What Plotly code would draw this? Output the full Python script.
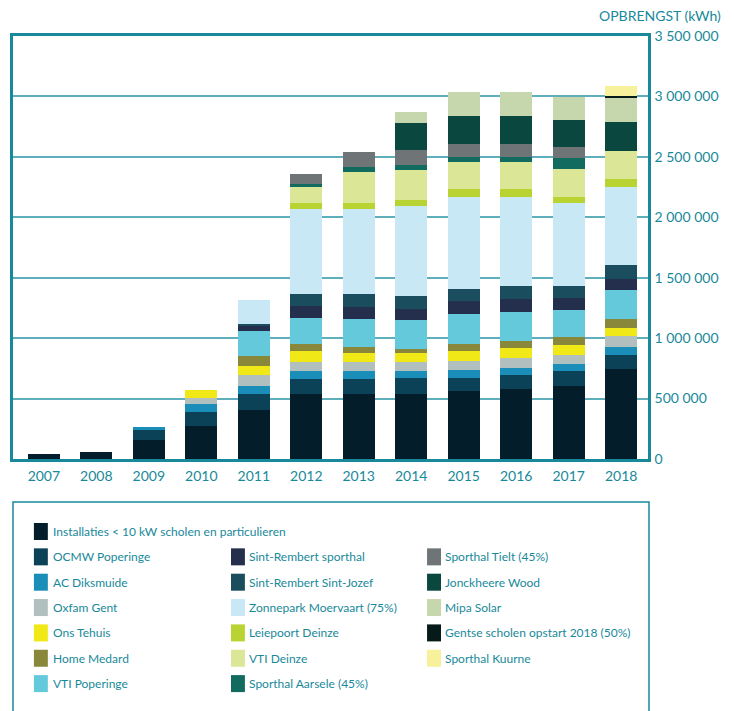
import plotly.graph_objects as go

# ---------------- data ----------------
years = ["2007", "2008", "2009", "2010", "2011", "2012", "2013", "2014", "2015", "2016", "2017", "2018"]

installaties = [42000, 59000, 161000, 271000, 409000, 537000, 537000, 537000, 562000, 580000, 604000, 741000]
ocmw_poperinge = [None, None, 76000, 119000, 128000, 129000, 129000, 137000, 106000, 113000, 121000, 120000]
ac_diksmuide = [None, None, 25000, 68000, 65000, 64000, 64000, 56000, 65000, 64000, 64000, 64000]
oxfam_gent = [None, None, None, 50000, 96000, 72000, 72000, 72000, 80000, 80000, 72000, 89000]
ons_tehuis = [None, None, None, 60000, 72000, 88000, 72000, 72000, 80000, 80000, 80000, 74000]
home_medard = [None, None, None, None, 80000, 65000, 56000, 40000, 56000, 56000, 65000, 67000]
vti_poperinge = [None, None, None, None, 210000, 213000, 229000, 237000, 247000, 240000, 223000, 240000]
sr_sporthal = [None, None, None, None, 42000, 98000, 99000, 91000, 108000, 107000, 100000, 91000]
sr_sint_jozef = [None, None, None, None, 16000, 99000, 107000, 107000, 99000, 108000, 99000, 116000]
zonnepark = [None, None, None, None, 198000, 707000, 707000, 748000, 761000, 736000, 694000, 645000]
leiepoort = [None, None, None, None, None, 50000, 50000, 50000, 67000, 67000, 50000, 67000]
vti_deinze = [None, None, None, None, None, 134000, 250000, 243000, 225000, 225000, 225000, 232000]
sporthal_aarsele = [None, None, None, None, None, 16000, 42000, 41000, 41000, 41000, 92000, None]
sporthal_tielt = [None, None, None, None, None, 84000, 123000, 123000, 107000, 107000, 90000, None]
jonckheere = [None, None, None, None, None, None, None, 229000, 238000, 238000, 230000, 246000]
mipa_solar = [None, None, None, None, None, None, None, 90000, 196000, 196000, 188000, 197000]
gentse_scholen = [None, None, None, None, None, None, None, None, None, None, None, 16000]
sporthal_kuurne = [None, None, None, None, None, None, None, None, None, None, None, 82000]

series_names = [
    "Installaties < 10 kW scholen en particulieren",
    "OCMW Poperinge", "AC Diksmuide", "Oxfam Gent", "Ons Tehuis", "Home Medard", "VTI Poperinge",
    "Sint-Rembert sporthal", "Sint-Rembert Sint-Jozef", "Zonnepark Moervaart (75%)", "Leiepoort Deinze",
    "VTI Deinze", "Sporthal Aarsele (45%)",
    "Sporthal Tielt (45%)", "Jonckheere Wood", "Mipa Solar", "Gentse scholen opstart 2018 (50%)", "Sporthal Kuurne",
]
series_values = [
    installaties, ocmw_poperinge, ac_diksmuide, oxfam_gent, ons_tehuis, home_medard, vti_poperinge,
    sr_sporthal, sr_sint_jozef, zonnepark, leiepoort, vti_deinze, sporthal_aarsele,
    sporthal_tielt, jonckheere, mipa_solar, gentse_scholen, sporthal_kuurne,
]
series_colors = [
    "#031e2a", "#0b4258", "#1a8db8", "#b2bfbf", "#f0e817", "#88873a", "#63c9db",
    "#242e4d", "#1a4e5e", "#c7e8f4", "#b9d432", "#dbe697", "#116b5e",
    "#6f7476", "#0a473e", "#c7d7ad", "#071a1a", "#f6f19a",
]

y_tick_vals = [0, 500000, 1000000, 1500000, 2000000, 2500000, 3000000, 3500000]
y_tick_text = ["0", "500 000", "1 000 000", "1 500 000", "2 000 000", "2 500 000", "3 000 000", "3 500 000"]

unit_title = "OPBRENGST (kWh)"

# ---------------- styling ----------------
TEAL = "#18899a"
GRID = "#5eaebb"
FONT = "Lato, Open Sans, sans-serif"
W, H = 734, 711
PL, PR, PT, PB = 10, 648, 36, 459  # plot area pixel box


def px_x(px):
    return (px - PL) / (PR - PL)


def px_y(py):
    return (PB - py) / (PB - PT)


fig = go.Figure()
for name, vals, col in zip(series_names, series_values, series_colors):
    fig.add_trace(go.Bar(
        x=years, y=vals, name=name, marker=dict(color=col, line=dict(width=0)),
        showlegend=False,
    ))

shapes = []
annotations = []

# legend frame
shapes.append(dict(type="rect", xref="paper", yref="paper",
                   x0=px_x(10), x1=px_x(649), y0=px_y(760), y1=px_y(502),
                   line=dict(color=TEAL, width=1.5), fillcolor="rgba(0,0,0,0)", layer="above"))

# legend layout: first item alone on row 0, then three columns of six
col_sw_x = [31, 229, 426]
col_tx_x = [50, 247, 444]
row0_y = 531.5
row_step = 25.35
positions = [(0, 0)]
for i in range(1, len(series_names)):
    k = i - 1
    positions.append((k // 6, 1 + k % 6))

for (c, r), name, col in zip(positions, series_names, series_colors):
    cy = row0_y + r * row_step
    shapes.append(dict(type="rect", xref="paper", yref="paper",
                       x0=px_x(col_sw_x[c]), x1=px_x(col_sw_x[c] + 14),
                       y0=px_y(cy + 8.5), y1=px_y(cy - 8.5),
                       line=dict(width=0), fillcolor=col, layer="above"))
    annotations.append(dict(xref="paper", yref="paper", x=px_x(col_tx_x[c] - 2), y=px_y(cy),
                            xanchor="left", yanchor="middle", showarrow=False, text=name,
                            font=dict(family=FONT, size=12, color=TEAL)))

annotations.append(dict(xref="paper", yref="paper", x=px_x(723), y=px_y(15),
                        xanchor="right", yanchor="middle", showarrow=False, text=unit_title,
                        font=dict(family=FONT, size=14, color=TEAL)))

fig.update_layout(
    width=W, height=H,
    margin=dict(l=PL, r=W - PR, t=PT, b=H - PB),
    paper_bgcolor="white", plot_bgcolor="white",
    barmode="stack", bargap=0.393,
    font=dict(family=FONT, color=TEAL),
    shapes=shapes, annotations=annotations,
    xaxis=dict(type="category", range=[-0.588, 11.512], showgrid=False,
               showline=True, linecolor=TEAL, linewidth=3, mirror=True,
               ticks="", ticklabelstandoff=2,
               tickfont=dict(family=FONT, size=14, color=TEAL)),
    yaxis=dict(side="right", range=[0, 3500000], tickvals=y_tick_vals, ticktext=y_tick_text,
               showgrid=True, gridcolor=GRID, gridwidth=2, zeroline=False,
               showline=True, linecolor=TEAL, linewidth=2.5, mirror=True,
               ticks="", ticklabelstandoff=1,
               tickfont=dict(family=FONT, size=14, color=TEAL)),
)

fig.write_html(
    "out.html",
    config={"displayModeBar": False},
    post_script="document.body.style.margin='0';document.body.style.overflow='hidden';",
)
